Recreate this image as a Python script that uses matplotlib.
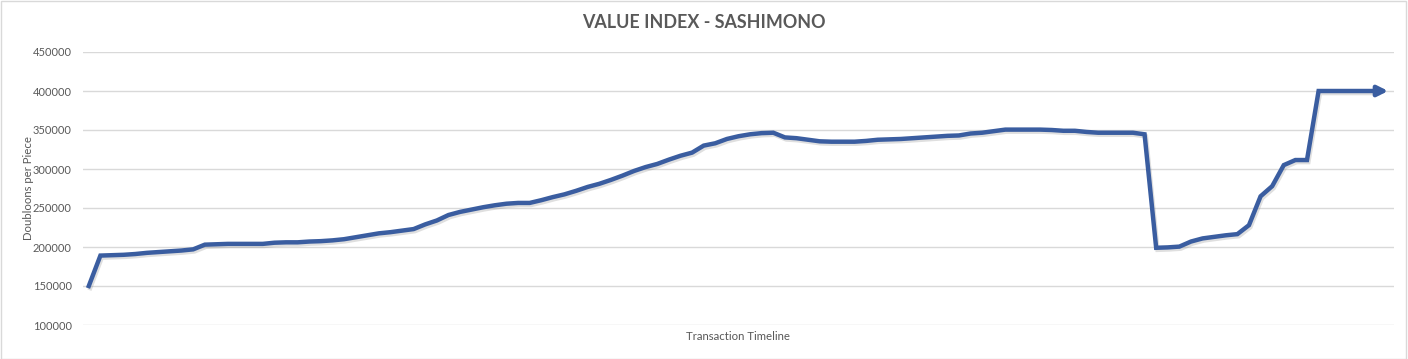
import matplotlib.pyplot as plt
import matplotlib.patheffects as pe
from matplotlib.patches import Rectangle
import numpy as np

title = "VALUE INDEX - SASHIMONO"
x_label = "Transaction Timeline"
y_label = "Doubloons per Piece"
y_ticks = [100000, 150000, 200000, 250000, 300000, 350000, 400000, 450000]

# value per transaction
values = [
    150000, 189000, 189500, 190000, 191000, 192500, 193500, 194500, 195500, 197000,
    203000, 203500, 204000, 204000, 204000, 204000, 205500, 206000, 206000, 207000,
    207500, 208500, 210000, 212500, 215000, 217500, 219000, 221000, 223000, 229000,
    234000, 241000, 245000, 248000, 251000, 253500, 255500, 256500, 256500, 260000,
    264000, 267500, 272000, 277000, 281000, 286000, 291500, 297500, 302500, 306500,
    312000, 317000, 321000, 330000, 333000, 338500, 342000, 344500, 346000, 346500,
    340500, 339500, 337500, 335500, 335000, 335000, 335000, 336000, 337500, 338000,
    338500, 339500, 340500, 341500, 342500, 343000, 345500, 346500, 348500, 350500,
    350500, 350500, 350500, 350000, 349000, 349000, 347500, 346500, 346500, 346500,
    346500, 344500, 199000, 199500, 200500, 207000, 211000, 213000, 215000, 216500,
    228000, 265000, 278000, 305000, 311500, 311500, 400000, 400000, 400000, 400000,
    400000, 400000, 400000,
]

line_color = "#3A5DA0"
text_color = "#595959"
grid_color = "#D9D9D9"

plt.rcParams['font.family'] = ['Lato', 'DejaVu Sans']

fig = plt.figure(figsize=(14.08, 3.59), dpi=100)
ax = fig.add_axes([83/1408, 1-325/359, (1394-83)/1408, (325-52)/359])

x = np.arange(len(values))
shadow = [pe.SimpleLineShadow(offset=(1, -1.5), alpha=0.25, shadow_color='gray'), pe.Normal()]
ax.plot(x[:-1], values[:-1], color=line_color, lw=3.2, solid_joinstyle='miter',
        path_effects=shadow)
ax.annotate('', xy=(x[-1], values[-1]), xytext=(x[-2], values[-2]),
            arrowprops=dict(arrowstyle='-|>,head_length=0.6,head_width=0.3',
                            color=line_color, lw=3.2, shrinkA=0, shrinkB=0))

ax.set_xlim(-0.5, len(values) - 0.5)
ax.set_ylim(100000, 450000)
ax.set_yticks(y_ticks)
ax.set_yticklabels([str(v) for v in y_ticks])
ax.set_xticks([])
ax.tick_params(axis='y', length=0, pad=8, labelsize=8, labelcolor=text_color)
ax.grid(axis='y', color=grid_color, lw=1)
ax.set_axisbelow(True)
for s in ax.spines.values():
    s.set_visible(False)

ax.set_ylabel(y_label, fontsize=8.2, color=text_color)
ax.yaxis.set_label_coords(-0.037, 0.5)
ax.set_xlabel(x_label, fontsize=8.2, color=text_color, labelpad=4)
fig.text(0.5, 1-22/359, title, ha='center', va='center', fontsize=12.9,
         fontweight='bold', color=text_color)

fig.patches.append(Rectangle((0.0005, 0.001), 0.998, 0.997, transform=fig.transFigure,
                             fill=False, edgecolor=grid_color, lw=1))

fig.savefig('out.png', dpi=100)
